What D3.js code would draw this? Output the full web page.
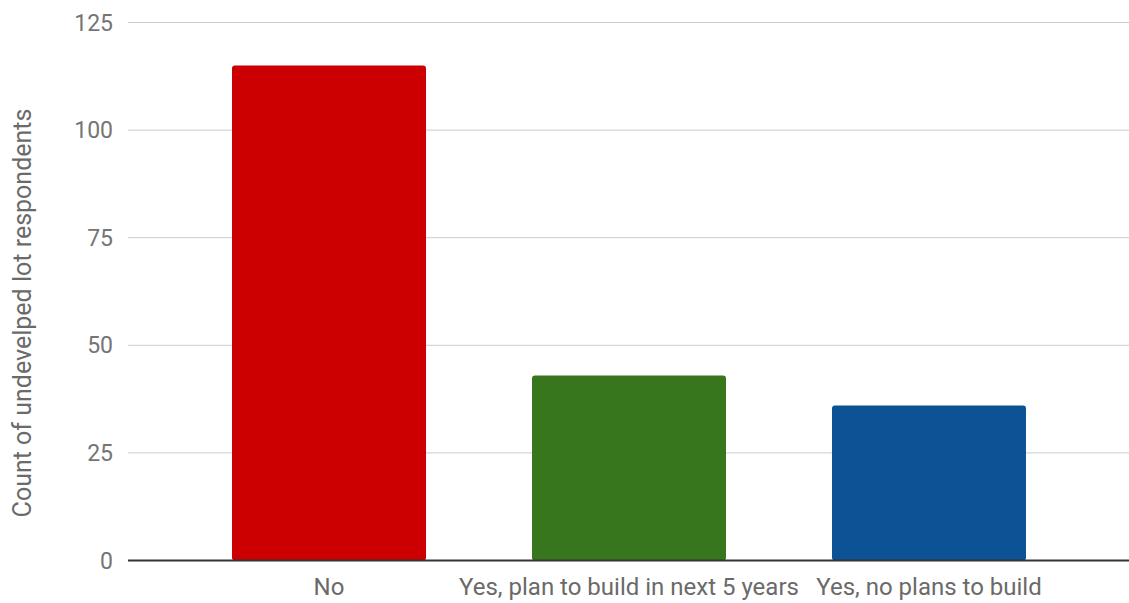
<!DOCTYPE html>
<html>
<head>
<meta charset="utf-8">
<title>Undeveloped lot respondents</title>
<script src="https://cdn.jsdelivr.net/npm/d3@7"></script>
<style>
body { margin:0; background:#fff; }
text { font-family: Roboto, "Noto Sans", Arial, sans-serif; }
</style>
</head>
<body>
<div id="chart"></div>
<script>
var categories = ["No", "Yes, plan to build in next 5 years", "Yes, no plans to build"];
var counts = [115, 43, 36];
var barColors = ["#cc0000", "#38761d", "#0b5394"];
var yTicks = [0, 25, 50, 75, 100, 125];

var W = 1129, H = 603;
var svg = d3.select("#chart").append("svg").attr("width", W).attr("height", H);

var x = d3.scaleBand().domain(categories).range([179, 1079])
	.paddingInner(0.3533).paddingOuter(0.1767);
var y = d3.scaleLinear().domain([0, 125]).range([560.5, 22.5]);

// gridlines
svg.append("g").selectAll("line").data(yTicks.filter(function(d){ return d > 0; }))
	.enter().append("line")
	.attr("x1", 128).attr("x2", W)
	.attr("y1", function(d){ return y(d); }).attr("y2", function(d){ return y(d); })
	.attr("stroke", "#cccccc").attr("stroke-width", 1);

// y tick labels
svg.append("g").selectAll("text").data(yTicks).enter().append("text")
	.attr("x", 113).attr("y", function(d){ return y(d); })
	.attr("dy", "0.35em").attr("text-anchor", "end")
	.attr("fill", "#757575").style("font-size", "23px")
	.text(function(d){ return d; });

// bars
svg.append("g").selectAll("rect").data(counts).enter().append("rect")
	.attr("x", function(d, i){ return x(categories[i]); })
	.attr("width", x.bandwidth())
	.attr("y", function(d){ return y(d); })
	.attr("height", function(d){ return y(0) - y(d); })
	.attr("rx", 3).attr("ry", 3)
	.attr("fill", function(d, i){ return barColors[i]; });

// baseline
svg.append("line").attr("x1", 128).attr("x2", W)
	.attr("y1", y(0)).attr("y2", y(0))
	.attr("stroke", "#333333").attr("stroke-width", 2);

// category labels
svg.append("g").selectAll("text").data(categories).enter().append("text")
	.attr("x", function(d){ return x(d) + x.bandwidth() / 2; })
	.attr("y", 587).attr("dy", "0.35em").attr("text-anchor", "middle")
	.attr("fill", "#6a6a6a").style("font-size", "24px")
	.text(function(d){ return d; });

// y axis title
svg.append("text")
	.attr("transform", "translate(22," + 313 + ") rotate(-90)")
	.attr("dy", "0.35em").attr("text-anchor", "middle")
	.attr("fill", "#6a6a6a").style("font-size", "25px")
	.text("Count of undevelped lot respondents");
</script>
</body>
</html>
